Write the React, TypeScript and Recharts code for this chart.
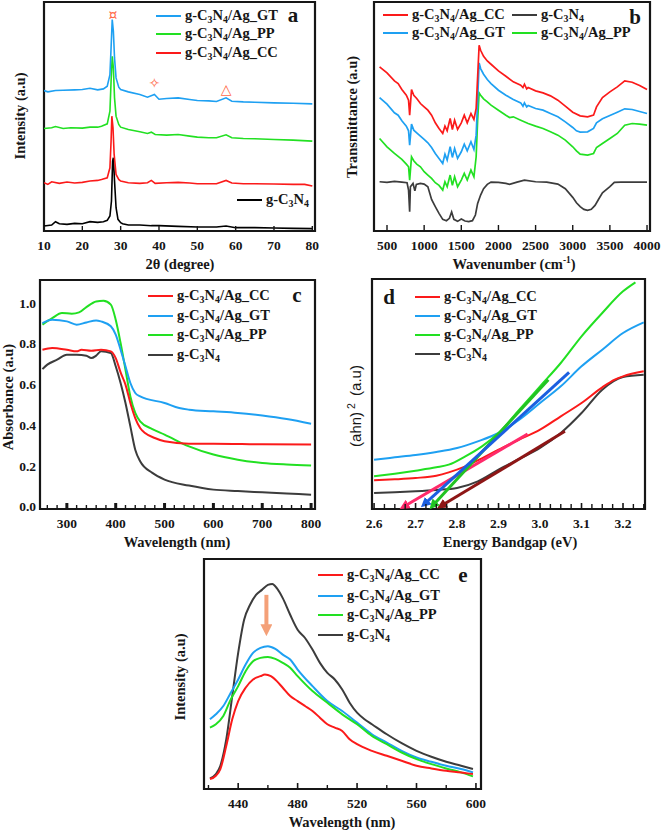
import React from 'react';
import { LineChart, Line, XAxis, YAxis, ReferenceArea, ReferenceDot } from 'recharts';

type Pt = [number, number];

const SERIF = '"Liberation Serif", "Times New Roman", serif';
const RED = '#fb1a1a';
const BLUE = '#1ea0f2';
const GREEN = '#22e022';
const GREY = '#3c3c3c';
const INK = '#161616';

const NAME_CC = 'g-C3N4/Ag_CC';
const NAME_GT = 'g-C3N4/Ag_GT';
const NAME_PP = 'g-C3N4/Ag_PP';
const NAME_BARE = 'g-C3N4';

// (a) XRD, 2theta vs intensity (a.u.)
const xrdTicks = [10, 20, 30, 40, 50, 60, 70, 80];
const xrdBare: Pt[] = [[10,1.5],[12,1.8],[13,2.8],[14,2.2],[16,2.0],[18,2.3],[20,2.2],[22,2.8],[24,2.6],[25.5,2.8],[26.5,3.2],[27.2,4.5],[27.6,9],[27.9,21],[28.1,22],[28.4,15],[28.8,7],[29.3,3.5],[30,2.5],[30.5,2.2],[32,1.8],[35,1.8],[38,1.6],[40,1.6],[45,1.4],[50,1.2],[55,1.2],[57.5,1.5],[60,1.0],[65,1.0],[70,0.9],[75,0.8],[80,0.7]];
const xrdCC: Pt[] = [[10,14.5],[11,14.0],[12,14.8],[14,14.3],[16,14.7],[18,14.4],[20,14.6],[22,15.0],[24,15.2],[25,15.5],[26.5,16.0],[27.2,19],[27.5,27],[27.7,34.5],[28,31],[28.3,23],[28.8,17],[29.5,15.5],[30,15],[32,14.5],[35,14.3],[37,14.5],[38,15.2],[39,14.3],[42,14.5],[45,14.6],[48,14.4],[50,14.2],[53,14.2],[55,14.2],[57.5,15.2],[59,14.4],[62,14.2],[65,14.2],[70,14.1],[75,14.0],[78,14.0],[80,13.5]];
const xrdPP: Pt[] = [[10,30.8],[12,31.0],[13,31.4],[15,30.8],[17,31.0],[20,30.9],[22,31.2],[24,31.2],[25,31.5],[26.5,32.2],[27.2,36],[27.5,45],[27.8,52.5],[28.1,49],[28.4,40],[28.8,34.5],[29.5,32],[30,31.2],[32,30.5],[35,29.8],[37,29.3],[38,29.7],[39,29.0],[42,28.8],[45,29.0],[48,28.5],[50,28.2],[53,28.0],[55,28.0],[57.5,28.9],[59,28.0],[62,27.8],[65,27.7],[70,27.5],[75,27.3],[80,27.0]];
const xrdGT: Pt[] = [[10,42.2],[11,41.8],[13,42.2],[15,42.3],[18,42.4],[20,42.5],[22,42.9],[24,42.4],[25.5,42.7],[26.5,43.5],[27.2,47],[27.5,55],[27.8,63.5],[28.1,60],[28.4,52],[28.8,46],[29.5,43.2],[30,42.5],[32,41.8],[35,41.0],[37,40.2],[38.8,41.0],[40,39.6],[42,39.8],[45,40.0],[48,39.5],[50,39.2],[53,39.1],[55,38.9],[57.5,40.0],[59,39.0],[62,38.8],[65,38.7],[70,38.5],[75,38.4],[80,38.2]];
const xrdPeaks = [
  { x: 28, y: 65, mark: '¤' },
  { x: 38.8, y: 44.5, mark: '✧' },
  { x: 57.5, y: 42.8, mark: '△' },
];

// (b) FTIR, wavenumber vs transmittance (a.u.)
const ftirTicks = [500, 1000, 1500, 2000, 2500, 3000, 3500, 4000];
const ftirBare: Pt[] = [[400,14.8],[500,14.6],[600,14.9],[700,14.7],[770,14.5],[790,12.3],[805,5.8],[815,13.3],[850,14.3],[875,12.1],[895,14.0],[950,14.3],[1000,14.1],[1050,13.3],[1100,9.5],[1150,7.3],[1200,5.3],[1250,3.5],[1300,3.1],[1340,3.8],[1370,5.7],[1400,3.5],[1450,2.9],[1500,3.6],[1550,3.0],[1600,2.8],[1650,3.1],[1690,4.8],[1720,8.3],[1760,10.8],[1800,12.7],[1850,14.0],[1900,14.7],[2000,14.6],[2100,14.3],[2150,14.0],[2250,14.7],[2350,15.3],[2500,14.8],[2650,14.7],[2800,14.1],[2900,12.7],[3000,10.1],[3050,8.5],[3100,7.3],[3150,6.5],[3200,6.2],[3250,6.5],[3300,7.7],[3350,9.6],[3400,11.5],[3500,13.3],[3560,14.6],[3650,14.7],[3800,14.7],[4000,14.7]];
const ftirCC: Pt[] = [[400,49.3],[500,47.5],[600,45.1],[650,44.3],[700,42.5],[760,40.8],[790,39.3],[805,34.8],[830,42.5],[860,40.8],[900,39.8],[950,38.3],[1000,37.3],[1050,36.3],[1100,34.8],[1150,32.5],[1200,30.8],[1250,29.3],[1280,31.5],[1310,30.1],[1350,33.8],[1380,30.5],[1410,33.3],[1450,30.5],[1500,32.5],[1540,34.8],[1580,32.5],[1630,35.3],[1670,33.5],[1700,36.8],[1720,46.3],[1740,55.8],[1760,54.3],[1800,52.5],[1850,51.1],[1900,50.1],[2000,48.1],[2100,46.5],[2200,44.8],[2300,43.8],[2330,43.1],[2350,44.1],[2380,42.7],[2400,43.1],[2500,42.1],[2600,41.5],[2700,40.6],[2800,39.3],[2900,37.5],[3000,35.7],[3100,34.6],[3200,34.3],[3280,34.8],[3320,37.3],[3400,40.1],[3500,41.8],[3600,43.3],[3700,45.1],[3800,44.7],[3900,43.7],[4000,42.5]];
const ftirGT: Pt[] = [[400,40.1],[500,38.1],[600,35.5],[650,34.8],[700,33.1],[760,31.5],[790,30.1],[805,25.8],[830,32.1],[860,30.3],[900,29.5],[950,28.5],[1000,27.5],[1050,26.5],[1100,25.1],[1150,23.3],[1200,21.8],[1250,20.3],[1280,23.1],[1310,21.3],[1350,25.3],[1380,22.1],[1410,24.8],[1450,21.8],[1500,23.8],[1540,26.1],[1580,24.1],[1630,26.8],[1670,24.5],[1700,28.8],[1720,39.3],[1740,50.5],[1760,48.8],[1800,47.1],[1850,45.5],[1900,44.3],[2000,42.3],[2100,40.8],[2200,39.5],[2300,38.5],[2330,37.5],[2350,38.5],[2380,37.3],[2400,37.7],[2500,36.8],[2600,36.3],[2700,35.3],[2800,34.3],[2900,32.8],[3000,31.1],[3050,30.1],[3100,29.7],[3200,29.8],[3280,30.8],[3320,32.5],[3400,33.7],[3500,34.7],[3600,35.7],[3700,36.7],[3800,36.5],[3900,35.9],[4000,35.3]];
const ftirPP: Pt[] = [[400,27.8],[500,25.3],[600,23.3],[700,21.5],[760,20.1],[790,19.3],[805,15.3],[830,22.3],[860,21.1],[900,20.1],[950,19.3],[1000,17.8],[1050,16.8],[1100,15.8],[1150,14.5],[1200,13.7],[1250,12.3],[1280,14.8],[1310,13.3],[1350,16.8],[1380,13.7],[1410,16.3],[1450,13.3],[1500,15.3],[1540,17.3],[1580,15.3],[1630,18.3],[1670,16.3],[1700,22.3],[1720,33.3],[1740,41.5],[1760,40.8],[1800,39.7],[1850,38.8],[1900,37.8],[2000,36.3],[2100,34.8],[2150,34.1],[2200,34.3],[2300,33.3],[2400,32.3],[2500,31.5],[2600,30.8],[2700,29.8],[2800,28.8],[2900,27.3],[3000,25.3],[3050,24.1],[3100,23.1],[3200,22.8],[3280,23.3],[3320,25.1],[3400,26.3],[3500,27.8],[3600,29.3],[3700,31.8],[3800,32.3],[3900,32.1],[4000,31.8]];

// (c) UV-Vis absorbance
const uvTicks = [300, 400, 500, 600, 700, 800];
const uvMinor = [260, 280, 320, 340, 360, 380, 420, 440, 460, 480, 520, 540, 560, 580, 620, 640, 660, 680, 720, 740, 760, 780];
const uvYTicks = [0, 0.2, 0.4, 0.6, 0.8, 1.0];
const uvCC: Pt[] = [[250,0.771],[270,0.78],[300,0.771],[320,0.763],[330,0.771],[350,0.766],[370,0.771],[390,0.763],[400,0.73],[410,0.66],[420,0.6],[430,0.51],[440,0.436],[450,0.387],[460,0.363],[480,0.338],[500,0.322],[550,0.31],[600,0.31],[700,0.307],[800,0.306]];
const uvGT: Pt[] = [[250,0.902],[270,0.918],[300,0.91],[320,0.894],[340,0.905],[360,0.915],[370,0.91],[390,0.886],[400,0.845],[410,0.771],[420,0.69],[430,0.608],[440,0.559],[450,0.542],[500,0.51],[530,0.485],[550,0.477],[600,0.469],[650,0.461],[700,0.448],[750,0.431],[800,0.408]];
const uvPP: Pt[] = [[250,0.894],[270,0.926],[290,0.951],[310,0.948],[325,0.954],[340,0.98],[360,1.008],[375,1.011],[390,0.992],[400,0.918],[410,0.804],[420,0.673],[430,0.542],[440,0.461],[450,0.42],[475,0.382],[500,0.355],[550,0.297],[600,0.257],[650,0.232],[700,0.216],[750,0.208],[800,0.203]];
const uvBare: Pt[] = [[250,0.676],[260,0.698],[280,0.722],[300,0.747],[320,0.747],[340,0.742],[350,0.73],[360,0.742],[370,0.763],[390,0.755],[400,0.69],[410,0.608],[420,0.51],[430,0.395],[440,0.281],[450,0.224],[475,0.167],[500,0.134],[550,0.105],[600,0.085],[650,0.078],[700,0.072],[750,0.066],[800,0.06]];

// (d) Tauc plot
const taucTicks = [2.6, 2.7, 2.8, 2.9, 3.0, 3.1, 3.2];
const taucMinor = [2.625, 2.65, 2.675, 2.725, 2.75, 2.775, 2.825, 2.85, 2.875, 2.925, 2.95, 2.975, 3.025, 3.05, 3.075, 3.125, 3.15, 3.175, 3.225, 3.25];
const taucCC: Pt[] = [[2.6,8.6],[2.65,8.9],[2.7,9.3],[2.75,10.0],[2.78,11],[2.82,12.8],[2.86,15.2],[2.9,17.8],[2.95,20.8],[3.0,23.8],[3.05,27.8],[3.1,31.8],[3.15,36.5],[3.18,38.8],[3.2,39.8],[3.25,41.3]];
const taucGT: Pt[] = [[2.6,14.8],[2.65,15.5],[2.7,16.2],[2.75,17.1],[2.8,18.3],[2.85,20.3],[2.9,22.8],[2.95,26.8],[3.0,31.8],[3.05,36.8],[3.1,42.8],[3.15,47.8],[3.2,52.8],[3.25,56.0]];
const taucPP: Pt[] = [[2.6,9.8],[2.65,10.6],[2.7,11.5],[2.75,12.5],[2.78,13.3],[2.82,15.8],[2.86,18.8],[2.9,22.8],[2.95,29.8],[3.0,36.8],[3.05,43.8],[3.1,51.8],[3.15,58.8],[3.2,65.3],[3.23,68.0]];
const taucBare: Pt[] = [[2.6,4.8],[2.65,5.0],[2.7,5.3],[2.75,5.7],[2.8,6.3],[2.85,8.3],[2.9,11.8],[2.95,15.0],[3.0,18.3],[3.05,22.8],[3.1,28.8],[3.15,35.8],[3.2,39.6],[3.25,40.3]];
// linear extrapolations to the energy axis
const fitCC: Pt[] = [[2.67,0.6],[2.97,22.5]];
const fitGT: Pt[] = [[2.72,1.3],[3.07,41]];
const fitPP: Pt[] = [[2.74,0.8],[3.02,38.8]];
const fitBare: Pt[] = [[2.76,0.8],[3.06,23.3]];

// (e) PL
const plTicks = [440, 480, 520, 560, 600];
const plMinor = [420, 460, 500, 540, 580];
const plBare: Pt[] = [[421,3.2],[425,4.5],[428,7],[432,15],[436,28],[440,41],[444,51],[448,55.5],[452,58.5],[456,60],[460,61.5],[463,61.8],[466,60.5],[470,57.5],[475,52.5],[480,48],[485,45.5],[490,42],[495,38],[500,35],[505,33],[510,30],[515,26],[520,23],[525,21],[530,19.5],[540,16.5],[550,13.8],[560,11.5],[570,9.7],[580,8.2],[590,7],[598,6]];
const plGT: Pt[] = [[421,21],[425,22.5],[430,25],[435,29],[440,33],[445,37.5],[450,41],[455,42.5],[460,43],[465,42.2],[470,40.5],[475,39],[480,36],[490,31],[500,26.5],[510,23.5],[520,20],[530,16.5],[540,14],[550,11.5],[560,9.5],[570,8.2],[580,7],[590,6],[598,5]];
const plPP: Pt[] = [[421,18.5],[425,19.5],[430,22],[435,27],[440,31],[445,35.5],[450,38.5],[455,39.5],[460,39.8],[465,39.2],[470,38],[475,36.5],[480,34],[490,29.5],[500,26],[510,22.5],[520,19.5],[530,16],[540,13.5],[550,11],[560,9],[570,7.5],[580,6.2],[590,5],[598,3.8]];
const plCC: Pt[] = [[421,3],[425,4],[428,6],[432,13],[436,21],[440,26.5],[445,30.5],[450,33],[455,34],[458,34.5],[462,34],[466,32.5],[470,30.5],[475,28],[480,26.5],[485,25],[490,23.5],[495,21.5],[500,19.5],[505,18.5],[510,17.5],[515,15],[520,13.5],[530,11.5],[540,10],[550,8.5],[560,7],[570,6.2],[580,5.5],[590,5],[598,4.5]];
const plArrow: Pt[] = [[459,58.5],[459,47.5]];

const pts = (a: Pt[]) => a.map(([x, y]) => ({ x, y }));

const near = (list: number[], v: number) => list.some((m) => Math.abs(m - v) < 1e-6);

const tickText = { fontFamily: SERIF, fontWeight: 700, fontSize: 13.5 };

const makeXTick = (major: number[], fmt: (v: number) => string, majLen: number, minLen: number, majW: number) =>
  (p: any) => {
    const v = p.payload.value;
    const isMaj = near(major, v);
    return (
      <g>
        <line x1={p.x} x2={p.x} y1={p.y} y2={p.y - (isMaj ? majLen : minLen)} stroke={INK} strokeWidth={isMaj ? majW : 1.4} />
        {isMaj && (
          <text x={p.x} y={p.y + 18.5} textAnchor="middle" style={tickText} fill={INK}>
            {fmt(v)}
          </text>
        )}
      </g>
    );
  };

const uvYTick = (p: any) => (
  <text x={p.x - 4} y={p.y + 4.5} textAnchor="end" style={tickText} fill={INK}>
    {p.payload.value.toFixed(1)}
  </text>
);

const Chem = ({ label }: { label: string }) => (
  <>
    {label.split(/(\d)/).map((s, i) =>
      /\d/.test(s) ? (
        <span key={i} style={{ fontSize: '0.68em', position: 'relative', top: '0.32em' }}>{s}</span>
      ) : (
        <span key={i}>{s}</span>
      )
    )}
  </>
);

type Row = { name: string; color: string; x: number; y: number; w?: number };

const LegendRow = ({ name, color, x, y, w = 25 }: Row) => (
  <div style={{ position: 'absolute', left: x, top: y - 10, height: 20, display: 'flex', alignItems: 'center', whiteSpace: 'nowrap' }}>
    <div style={{ width: w, height: 2.6, background: color, marginRight: 4 }} />
    <span style={{ fontFamily: SERIF, fontWeight: 'bold', fontSize: 14.5, color: INK, lineHeight: '20px' }}>
      <Chem label={name} />
    </span>
  </div>
);

const Abs = ({ x, y, children, rotate, style }: any) => (
  <div
    style={{
      position: 'absolute',
      left: x,
      top: y,
      transform: `translate(-50%, -50%)${rotate ? ' rotate(-90deg)' : ''}`,
      whiteSpace: 'nowrap',
      fontFamily: SERIF,
      fontWeight: 'bold',
      fontSize: 14.5,
      color: INK,
      lineHeight: 1,
      ...style,
    }}
  >
    {children}
  </div>
);

const Letter = ({ x, y, ch }: { x: number; y: number; ch: string }) => (
  <Abs x={x} y={y} style={{ fontSize: 21 }}>{ch}</Abs>
);

type SeriesDef = { id: string; data: Pt[]; color: string; width?: number; smooth?: boolean; marker?: string; markerStart?: string };

type PanelProps = {
  left: number;
  top: number;
  width: number;
  height: number;
  margin: { top: number; right: number; left: number; bottom: number };
  yWidth: number;
  xHeight: number;
  xDomain: [number, number];
  yDomain: [number, number];
  xTicks: number[];
  xMajor: number[];
  xFmt: (v: number) => string;
  majLen: number;
  minLen: number;
  majW: number;
  yTicks?: number[];
  series: SeriesDef[];
  children?: React.ReactNode;
};

const Panel = (p: PanelProps) => (
  <div style={{ position: 'absolute', left: p.left, top: p.top }}>
    <LineChart width={p.width} height={p.height} margin={p.margin}>
      <XAxis
        type="number"
        dataKey="x"
        domain={p.xDomain}
        allowDataOverflow
        ticks={p.xTicks}
        interval={0}
        tickSize={0}
        tickMargin={0}
        tickLine={false}
        axisLine={false}
        height={p.xHeight}
        tick={makeXTick(p.xMajor, p.xFmt, p.majLen, p.minLen, p.majW)}
      />
      <YAxis
        type="number"
        dataKey="y"
        domain={p.yDomain}
        allowDataOverflow
        width={p.yWidth}
        ticks={p.yTicks}
        interval={0}
        tickSize={0}
        tickMargin={0}
        tickLine={false}
        axisLine={false}
        tick={p.yTicks ? uvYTick : false}
      />
      {p.series.map((s) => (
        <Line
          key={s.id}
          data={pts(s.data)}
          dataKey="y"
          type={s.smooth ? 'monotone' : 'linear'}
          stroke={s.color}
          strokeWidth={s.width ?? 1.8}
          dot={false}
          activeDot={false}
          isAnimationActive={false}
          markerEnd={s.marker}
          markerStart={s.markerStart}
        />
      ))}
      {p.children}
      <ReferenceArea
        x1={p.xDomain[0]}
        x2={p.xDomain[1]}
        y1={p.yDomain[0]}
        y2={p.yDomain[1]}
        fill="none"
        fillOpacity={0}
        stroke={INK}
        strokeWidth={2.2}
        ifOverflow="extendDomain"
      />
    </LineChart>
  </div>
);

const ARROWS = [
  { id: 'ar-pink', color: '#ff2a6a' },
  { id: 'ar-blue', color: '#1b5fe0' },
  { id: 'ar-green', color: '#22c322' },
  { id: 'ar-dred', color: '#8e1616' },
  { id: 'ar-orange', color: '#f4a078' },
];

export default function App() {
  return (
    <div style={{ position: 'absolute', left: 0, top: 0, width: 661, height: 830, background: '#fff', overflow: 'hidden' }}>
      <svg width={0} height={0} style={{ position: 'absolute' }}>
        <defs>
          {ARROWS.map((a) => (
            <marker
              key={a.id}
              id={a.id}
              viewBox="0 0 10 10"
              refX={6}
              refY={5}
              markerWidth={a.id === 'ar-orange' ? 12 : 10}
              markerHeight={a.id === 'ar-orange' ? 12 : 10}
              markerUnits="userSpaceOnUse"
              orient="auto-start-reverse"
            >
              <path d="M0,0 L10,5 L0,10 z" fill={a.color} />
            </marker>
          ))}
        </defs>
      </svg>

      {/* (a) XRD */}
      <Panel
        left={0}
        top={0}
        width={330}
        height={280}
        margin={{ top: 2, right: 15, left: 0, bottom: 0 }}
        yWidth={44}
        xHeight={49}
        xDomain={[10, 80.7]}
        yDomain={[0, 68.8]}
        xTicks={xrdTicks}
        xMajor={xrdTicks}
        xFmt={(v) => String(v)}
        majLen={5}
        minLen={3}
        majW={1.4}
        series={[
          { id: 'bare', data: xrdBare, color: '#000', width: 1.6 },
          { id: 'cc', data: xrdCC, color: RED, width: 1.6 },
          { id: 'pp', data: xrdPP, color: GREEN, width: 1.6 },
          { id: 'gt', data: xrdGT, color: BLUE, width: 1.6 },
        ]}
      >
        {xrdPeaks.map((m) => (
          <ReferenceDot
            key={m.mark}
            x={m.x}
            y={m.y}
            r={0}
            ifOverflow="visible"
            shape={(sp: any) => (
              <text x={sp.cx} y={sp.cy + 5} textAnchor="middle" style={{ fontFamily: 'DejaVu Sans', fontSize: 14 }} fill="#ff6a4a">
                {m.mark}
              </text>
            )}
          />
        ))}
      </Panel>
      <LegendRow name={NAME_GT} color={BLUE} x={156} y={16} />
      <LegendRow name={NAME_PP} color={GREEN} x={156} y={34} />
      <LegendRow name={NAME_CC} color={RED} x={156} y={53} />
      <LegendRow name={NAME_BARE} color="#000" x={237} y={200} />
      <Letter x={293} y={15} ch="a" />
      <Abs x={20} y={116} rotate>Intensity (a.u)</Abs>
      <Abs x={180} y={264}>2θ (degree)</Abs>

      {/* (b) FTIR */}
      <Panel
        left={330}
        top={0}
        width={331}
        height={280}
        margin={{ top: 2, right: 11, left: 0, bottom: 0 }}
        yWidth={44}
        xHeight={49}
        xDomain={[325, 4040]}
        yDomain={[0, 68.8]}
        xTicks={ftirTicks}
        xMajor={ftirTicks}
        xFmt={(v) => String(v)}
        majLen={6}
        minLen={3}
        majW={1.4}
        series={[
          { id: 'bare', data: ftirBare, color: GREY, width: 1.7 },
          { id: 'pp', data: ftirPP, color: GREEN, width: 1.7 },
          { id: 'gt', data: ftirGT, color: BLUE, width: 1.7 },
          { id: 'cc', data: ftirCC, color: RED, width: 1.7 },
        ]}
      />
      <LegendRow name={NAME_CC} color={RED} x={383} y={15} />
      <LegendRow name={NAME_GT} color={BLUE} x={383} y={33} />
      <LegendRow name={NAME_BARE} color={GREY} x={512} y={15} />
      <LegendRow name={NAME_PP} color={GREEN} x={512} y={33} />
      <Letter x={635} y={17} ch="b" />
      <Abs x={352} y={117} rotate>Transmittance (a.u)</Abs>
      <Abs x={514} y={264}>
        Wavenumber (cm<span style={{ fontSize: '0.65em', position: 'relative', top: '-0.6em' }}>-1</span>)
      </Abs>

      {/* (c) UV-Vis */}
      <Panel
        left={0}
        top={270}
        width={330}
        height={280}
        margin={{ top: 10, right: 15, left: 0, bottom: 0 }}
        yWidth={40}
        xHeight={41}
        xDomain={[245, 808]}
        yDomain={[-0.01, 1.113]}
        xTicks={[...uvTicks, ...uvMinor]}
        xMajor={uvTicks}
        xFmt={(v) => String(v)}
        majLen={6}
        minLen={4}
        majW={3}
        yTicks={uvYTicks}
        series={[
          { id: 'bare', data: uvBare, color: GREY, width: 2, smooth: true },
          { id: 'pp', data: uvPP, color: GREEN, width: 2, smooth: true },
          { id: 'cc', data: uvCC, color: RED, width: 2, smooth: true },
          { id: 'gt', data: uvGT, color: BLUE, width: 2, smooth: true },
        ]}
      />
      <LegendRow name={NAME_CC} color={RED} x={148} y={296} />
      <LegendRow name={NAME_GT} color={BLUE} x={148} y={316} />
      <LegendRow name={NAME_PP} color={GREEN} x={148} y={335} />
      <LegendRow name={NAME_BARE} color={GREY} x={148} y={355} />
      <Letter x={297} y={295} ch="c" />
      <Abs x={8} y={397} rotate>Absorbance (a.u)</Abs>
      <Abs x={177} y={542}>Wavelength (nm)</Abs>

      {/* (d) Tauc */}
      <Panel
        left={330}
        top={270}
        width={331}
        height={280}
        margin={{ top: 9, right: 16, left: 0, bottom: 0 }}
        yWidth={42}
        xHeight={41}
        xDomain={[2.595, 3.253]}
        yDomain={[0, 69]}
        xTicks={[...taucTicks, ...taucMinor]}
        xMajor={taucTicks}
        xFmt={(v) => v.toFixed(1)}
        majLen={6}
        minLen={5}
        majW={1.6}
        series={[
          { id: 'bare', data: taucBare, color: GREY, width: 2, smooth: true },
          { id: 'cc', data: taucCC, color: RED, width: 2, smooth: true },
          { id: 'gt', data: taucGT, color: BLUE, width: 2, smooth: true },
          { id: 'pp', data: taucPP, color: GREEN, width: 2, smooth: true },
          { id: 'fcc', data: fitCC, color: '#ff2a6a', width: 3, markerStart: 'url(#ar-pink)' },
          { id: 'fbare', data: fitBare, color: '#8e1616', width: 3, markerStart: 'url(#ar-dred)' },
          { id: 'fpp', data: fitPP, color: '#22c322', width: 3, markerStart: 'url(#ar-green)' },
          { id: 'fgt', data: fitGT, color: '#1b5fe0', width: 3, markerStart: 'url(#ar-blue)' },
        ]}
      />
      <LegendRow name={NAME_CC} color={RED} x={415} y={297} />
      <LegendRow name={NAME_GT} color={BLUE} x={415} y={316} />
      <LegendRow name={NAME_PP} color={GREEN} x={415} y={335} />
      <LegendRow name={NAME_BARE} color={GREY} x={415} y={354} />
      <Letter x={389} y={297} ch="d" />
      <Abs x={355} y={406} rotate style={{ fontFamily: '"Liberation Sans", Arial, sans-serif', fontWeight: 'normal', fontSize: 15 }}>
        (ahn)<span style={{ fontSize: '0.7em', position: 'relative', top: '-0.55em', margin: '0 3px' }}>2</span> (a.u)
      </Abs>
      <Abs x={510} y={542}>Energy Bandgap (eV)</Abs>

      {/* (e) PL */}
      <Panel
        left={150}
        top={540}
        width={340}
        height={290}
        margin={{ top: 19, right: 9, left: 0, bottom: 0 }}
        yWidth={54}
        xHeight={41}
        xDomain={[417, 603.4]}
        yDomain={[0, 69.3]}
        xTicks={[...plTicks, ...plMinor]}
        xMajor={plTicks}
        xFmt={(v) => String(v)}
        majLen={6}
        minLen={4}
        majW={1.6}
        series={[
          { id: 'bare', data: plBare, color: GREY, width: 2, smooth: true },
          { id: 'gt', data: plGT, color: BLUE, width: 2, smooth: true },
          { id: 'pp', data: plPP, color: GREEN, width: 2, smooth: true },
          { id: 'cc', data: plCC, color: RED, width: 2, smooth: true },
          { id: 'arrow', data: plArrow, color: '#f4a078', width: 4, marker: 'url(#ar-orange)' },
        ]}
      />
      <LegendRow name={NAME_CC} color={RED} x={318} y={575} />
      <LegendRow name={NAME_GT} color={BLUE} x={318} y={596} />
      <LegendRow name={NAME_PP} color={GREEN} x={318} y={615} />
      <LegendRow name={NAME_BARE} color={GREY} x={318} y={635} />
      <Letter x={463} y={575} ch="e" />
      <Abs x={180} y={677} rotate>Intensity (a.u)</Abs>
      <Abs x={342} y={822}>Wavelength (nm)</Abs>
    </div>
  );
}
